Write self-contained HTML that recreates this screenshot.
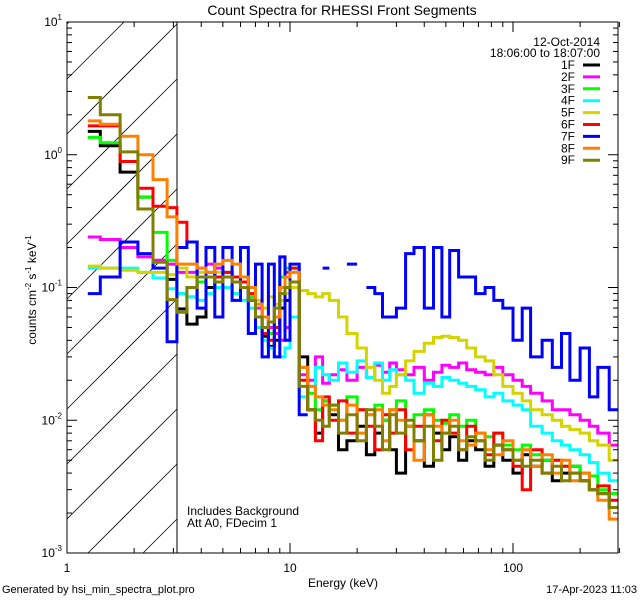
<!DOCTYPE html>
<html><head><meta charset="utf-8"><style>
html,body{margin:0;padding:0;background:#fff;width:640px;height:600px;overflow:hidden;}
svg{display:block;}
svg text{font-family:"Liberation Sans",sans-serif;fill:#000;}
</style></head><body>
<svg id="chart" width="640" height="600" xmlns="http://www.w3.org/2000/svg">
<rect width="640" height="600" fill="#fff"/>
<defs><clipPath id="plotclip"><rect x="67" y="22" width="551" height="531"/></clipPath></defs>
<g id="hatch"></g>
<line x1="177" y1="22" x2="177" y2="553" stroke="#000" stroke-width="1"/>
<g id="series" clip-path="url(#plotclip)"></g>
<g id="axes"></g>
<text x="342" y="15" text-anchor="middle" font-size="14">Count Spectra for RHESSI Front Segments</text>
<text x="343" y="587" text-anchor="middle" font-size="12">Energy (keV)</text>
<text transform="translate(36,290) rotate(-90)" text-anchor="middle" font-size="12">counts cm<tspan font-size="8" dy="-5">-2</tspan><tspan dy="5"> s</tspan><tspan font-size="8" dy="-5">-1</tspan><tspan dy="5"> keV</tspan><tspan font-size="8" dy="-5">-1</tspan></text>
<text x="600" y="46" text-anchor="end" font-size="12">12-Oct-2014</text>
<text x="600" y="57" text-anchor="end" font-size="12">18:06:00 to 18:07:00</text>
<text x="187" y="515" font-size="12">Includes Background</text>
<text x="187" y="527" font-size="12">Att A0, FDecim 1</text>
<text x="2" y="593" font-size="11">Generated by hsi_min_spectra_plot.pro</text>
<text x="637" y="593" text-anchor="end" font-size="11">17-Apr-2023 11:03</text>
<g id="legend"></g>
</svg>
<script>
const edges=[1.24,1.41,1.73,2.08,2.43,2.81,3.11,3.45,3.83,4.2,4.6,5.0,5.5,6.0,6.5,7.0,7.5,8.0,8.5,9.0,9.5,10,11,12,13,14,15,16.5,18,20,22,24,26,28,30,33,36,40,44,48,52,57,62,68,75,82,90,100,110,120,135,150,165,180,200,220,240,270,300];
const seriesNames=["1F","2F","3F","4F","5F","6F","7F","8F","9F"];
const s1F=[1.5,1.17,0.74,0.48,0.16,0.115,0.069,0.053,0.06,0.1,0.11,0.12,0.12,0.1,0.08,0.05,0.043,0.036,0.04,0.07,0.08,0.1,0.03,0.012,0.008,0.014,0.011,0.006,0.007,0.009,0.0055,0.008,0.01,0.006,0.004,0.009,0.007,0.0045,0.008,0.006,0.0075,0.005,0.007,0.006,0.0045,0.0065,0.005,0.004,0.0055,0.0045,0.005,0.0035,0.004,0.0045,0.0035,0.003,0.0028,0.0022];
const s2F=[0.24,0.23,0.2,0.17,0.16,0.15,0.13,0.13,0.14,0.15,0.14,0.13,0.12,0.1,0.085,0.07,0.06,0.05,0.045,0.04,0.05,0.06,0.022,0.02,0.03,0.019,0.022,0.024,0.02,0.025,0.021,0.026,0.023,0.027,0.024,0.022,0.025,0.02,0.023,0.026,0.025,0.027,0.024,0.023,0.022,0.025,0.022,0.02,0.018,0.016,0.014,0.012,0.012,0.011,0.01,0.009,0.008,0.0065];
const s3F=[1.35,1.23,0.89,0.48,0.26,0.16,0.09,0.085,0.11,0.12,0.11,0.13,0.12,0.1,0.085,0.06,0.05,0.045,0.06,0.12,0.14,0.14,0.025,0.016,0.012,0.014,0.013,0.01,0.015,0.012,0.011,0.013,0.01,0.012,0.014,0.009,0.011,0.012,0.01,0.0095,0.011,0.009,0.01,0.008,0.0075,0.008,0.0065,0.006,0.0065,0.0055,0.005,0.005,0.0045,0.0045,0.004,0.0038,0.003,0.0028];
const s4F=[0.14,0.14,0.14,0.13,0.118,0.098,0.09,0.085,0.08,0.09,0.1,0.1,0.09,0.08,0.07,0.05,0.04,0.035,0.03,0.03,0.035,0.06,0.015,0.018,0.025,0.022,0.02,0.027,0.023,0.028,0.021,0.027,0.02,0.024,0.022,0.02,0.016,0.019,0.018,0.021,0.02,0.019,0.018,0.017,0.015,0.016,0.014,0.013,0.012,0.009,0.008,0.007,0.0065,0.006,0.0055,0.0048,0.004,0.0035];
const s5F=[0.145,0.14,0.135,0.13,0.13,0.125,0.14,0.12,0.13,0.12,0.13,0.12,0.11,0.1,0.09,0.08,0.07,0.085,0.075,0.08,0.09,0.1,0.095,0.09,0.085,0.09,0.08,0.06,0.045,0.035,0.025,0.02,0.016,0.018,0.022,0.028,0.033,0.038,0.042,0.043,0.042,0.04,0.035,0.03,0.028,0.022,0.018,0.016,0.014,0.012,0.011,0.01,0.009,0.0085,0.008,0.007,0.0065,0.005];
const s6F=[1.65,1.65,0.89,0.56,0.41,0.40,0.31,0.22,0.12,0.13,0.12,0.13,0.12,0.11,0.09,0.06,0.045,0.04,0.05,0.1,0.13,0.14,0.02,0.012,0.007,0.015,0.01,0.014,0.008,0.012,0.009,0.006,0.011,0.008,0.012,0.006,0.009,0.011,0.007,0.01,0.008,0.006,0.009,0.007,0.0055,0.008,0.006,0.0045,0.003,0.006,0.004,0.005,0.0045,0.004,0.0035,0.003,0.0032,0.0025];
const s7F=[0.09,0.12,0.22,0.18,0.14,0.039,0.2,0.22,0.07,0.2,0.06,0.2,0.08,0.2,0.045,0.15,0.03,0.15,0.03,0.17,0.04,0.15,0.011,null,null,0.14,null,null,0.15,null,0.1,0.09,0.06,0.06,0.07,0.18,0.2,0.07,0.2,0.06,0.19,0.12,0.12,0.09,0.1,0.08,0.07,0.04,0.07,0.03,0.04,0.025,0.045,0.02,0.035,0.015,0.025,0.012];
const s8F=[1.8,1.7,1.38,1.0,0.65,0.34,0.15,0.15,0.14,0.13,0.15,0.16,0.15,0.12,0.1,0.075,0.06,0.055,0.06,0.1,0.12,0.13,0.025,0.018,0.015,0.013,0.012,0.01,0.013,0.008,0.011,0.012,0.007,0.012,0.01,0.009,0.005,0.011,0.009,0.008,0.01,0.007,0.0065,0.008,0.006,0.0055,0.007,0.005,0.006,0.0045,0.0055,0.004,0.005,0.0035,0.004,0.003,0.0025,0.0018];
const s9F=[2.7,2.0,1.05,0.39,0.155,0.081,0.065,0.1,0.12,0.12,0.11,0.12,0.11,0.1,0.08,0.06,0.05,0.055,0.07,0.09,0.1,0.11,0.018,0.012,0.01,0.009,0.013,0.008,0.011,0.007,0.012,0.009,0.006,0.011,0.008,0.01,0.007,0.009,0.005,0.008,0.009,0.006,0.0075,0.007,0.005,0.0065,0.006,0.005,0.0045,0.005,0.004,0.0045,0.0035,0.004,0.0035,0.003,0.0028,0.0022];
const xTickLabels=["1","10","100"];
const yTickExps=["1","0","-1","-2","-3"];

const NS="http://www.w3.org/2000/svg";
const X0=67,X1=618,Y0=22,Y1=553;
const xMinL=0,xMaxL=2.4709;
function xs(e){return X0+(Math.log10(e)-xMinL)/(xMaxL-xMinL)*(X1-X0);}
function ys(v){return Y0+(1-Math.log10(v))/4*(Y1-Y0);}
function mk(tag,attrs,parent){const el=document.createElementNS(NS,tag);for(const k in attrs)el.setAttribute(k,attrs[k]);parent.appendChild(el);return el;}

// hatch lines clipped manually to box x 67-177, y 22-553 (slope: y decreases as x increases)
const hatch=document.getElementById('hatch');
for(let k=-4;k<12;k++){const c=134+k*55;
 // line: y = c - (x-67)
 let xa=67,xb=177;
 xa=Math.max(xa,67+(c-553)); xb=Math.min(xb,67+(c-22));
 if(xb<=xa)continue;
 const ln=mk('line',{x1:xa,y1:c-(xa-67),x2:xb,y2:c-(xb-67),stroke:'#000','stroke-width':0.8},hatch);
 
 }

const colors=["#000000","#ff00ff","#00ff00","#00ffff","#d4d400","#ff0000","#0000ff","#ff8000","#808000"];
const allSeries=[s1F,s2F,s3F,s4F,s5F,s6F,s7F,s8F,s9F];
const sg=document.getElementById('series');
allSeries.forEach((vals,si)=>{
 let d="",prev=null;
 const n=Math.min(vals.length,edges.length-1);
 for(let i=0;i<n;i++){const v=vals[i];
  if(v==null||v<=0){prev=null;continue;}
  const y=ys(v).toFixed(1),xa=xs(edges[i]).toFixed(1),xb=xs(edges[i+1]).toFixed(1);
  if(prev==null)d+=`M${xa},${y}`;else d+=`L${xa},${y}`;
  d+=`L${xb},${y}`;prev=v;}
 const p=mk('path',{d:d,fill:'none',stroke:colors[si],'stroke-width':3,'stroke-linejoin':'miter'},sg);
 
 
});

const ax=document.getElementById('axes');
const fr=mk('rect',{x:X0,y:Y0,width:X1-X0,height:Y1-Y0,fill:'none',stroke:'#000','stroke-width':1},ax);


for(let dec=0;dec<3;dec++){for(let m=1;m<10;m++){const e=Math.pow(10,dec)*m;if(e>300)break;
 const x=xs(e),L=m===1?10:5;
 const t1=mk('line',{x1:x,y1:Y1,x2:x,y2:Y1-L,stroke:'#000'},ax);
 
 
 const t2=mk('line',{x1:x,y1:Y0,x2:x,y2:Y0+L,stroke:'#000'},ax);
 
 }}
xTickLabels.forEach(s=>{const t=mk('text',{x:xs(+s),y:572,'text-anchor':'middle','font-size':12},ax);t.textContent=s;
 
 });
for(let dec=-3;dec<1;dec++){for(let m=1;m<10;m++){const v=Math.pow(10,dec)*m;const y=ys(v),L=m===1?10:5;
 const t1=mk('line',{x1:X0,y1:y,x2:X0+L,y2:y,stroke:'#000'},ax);
 
 
 const t2=mk('line',{x1:X1,y1:y,x2:X1-L,y2:y,stroke:'#000'},ax);
 
 }}
yTickExps.forEach(s=>{const y=ys(Math.pow(10,+s));
 const t=mk('text',{x:62,y:y+4,'text-anchor':'end','font-size':12},ax);
 t.innerHTML='10<tspan font-size="8" dy="-6">'+s+'</tspan>';
 
 });

const lg=document.getElementById('legend');
seriesNames.forEach((nm,i)=>{const y=65+i*11.9;
 const t=mk('text',{x:575,y:y+4,'text-anchor':'end','font-size':12},lg);t.textContent=nm;
 
 
 const l=mk('line',{x1:583,y1:y,x2:600,y2:y,stroke:colors[i],'stroke-width':3},lg);
 
 });
</script>
</body></html>
